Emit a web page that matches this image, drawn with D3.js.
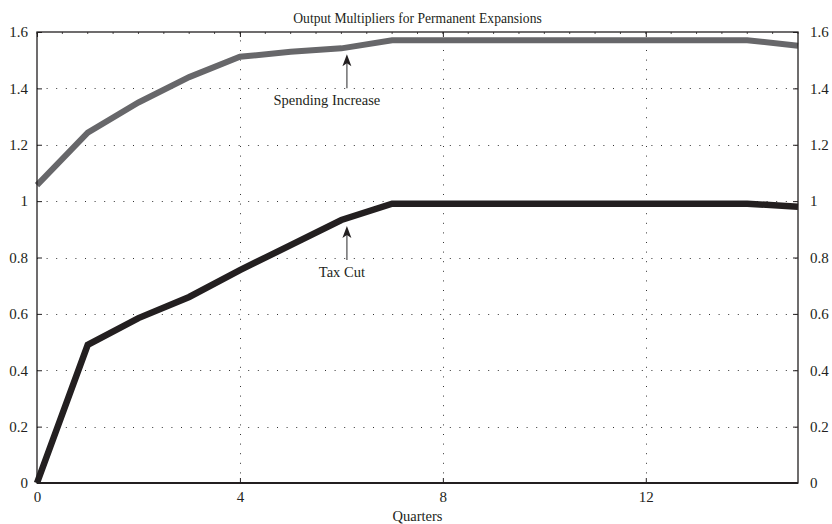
<!DOCTYPE html>
<html>
<head>
<meta charset="utf-8">
<script src="https://cdn.jsdelivr.net/npm/d3@7/dist/d3.min.js"></script>
<style>
  html, body { margin: 0; padding: 0; background: #fff; }
  svg { display: block; }
  text { font-family: "Liberation Serif", "DejaVu Serif", serif; fill: #231f20; }
</style>
</head>
<body>
<svg id="chart" width="832" height="524"></svg>
<script>
const title = "Output Multipliers for Permanent Expansions";
const xLabel = "Quarters";
const quarters = [0, 1, 2, 3, 4, 5, 6, 7, 8, 9, 10, 11, 12, 13, 14, 15];
const spendingIncrease = [1.057, 1.243, 1.35, 1.44, 1.512, 1.53, 1.542, 1.571, 1.571, 1.571, 1.571, 1.571, 1.571, 1.571, 1.571, 1.551];
const taxCut = [0, 0.49, 0.585, 0.66, 0.755, 0.844, 0.933, 0.991, 0.991, 0.991, 0.991, 0.991, 0.991, 0.991, 0.991, 0.98];
const xTicks = [0, 4, 8, 12];
const yTicks = [0, 0.2, 0.4, 0.6, 0.8, 1, 1.2, 1.4, 1.6];
const annotations = [
  { text: "Spending Increase", x: 6, series: "spending", textDx: -20 },
  { text: "Tax Cut", x: 6, series: "tax", textDx: -5 }
];

const svg = d3.select("#chart");
const m = { left: 37, right: 34, top: 32, bottom: 41 };
const W = 832, H = 524;
const x = d3.scaleLinear().domain([0, 15]).range([m.left, W - m.right]);
const y = d3.scaleLinear().domain([0, 1.6]).range([H - m.bottom, m.top]);

const ink = "#231f20";

// grid
const grid = svg.append("g");
yTicks.filter(v => v > 0 && v < 1.6).forEach(v => {
  grid.append("line").attr("x1", x(0)).attr("x2", x(15)).attr("y1", Math.round(y(v)) + 0.5).attr("y2", Math.round(y(v)) + 0.5)
    .attr("stroke", "#333").attr("stroke-width", 1).attr("stroke-dasharray", "1,8.6");
});
xTicks.filter(v => v > 0).forEach(v => {
  grid.append("line").attr("y1", y(0)).attr("y2", y(1.6)).attr("x1", Math.round(x(v)) + 0.5).attr("x2", Math.round(x(v)) + 0.5)
    .attr("stroke", "#333").attr("stroke-width", 1).attr("stroke-dasharray", "1,8.6");
});

// axes with inward ticks
const axL = d3.axisLeft(y).tickValues(yTicks).tickSize(-5).tickPadding(9).tickFormat(d => d3.format("")(+d.toFixed(1)));
const axR = d3.axisRight(y).tickValues(yTicks).tickSize(-5).tickPadding(12).tickFormat(d => d3.format("")(+d.toFixed(1)));
const axB = d3.axisBottom(x).tickValues(xTicks).tickSize(-5).tickPadding(8).tickFormat(d3.format("d"));
const axT = d3.axisTop(x).tickValues(xTicks).tickSize(-5).tickFormat("");

function style(g) {
  g.select(".domain").remove();
  g.selectAll("line").attr("stroke", ink).attr("stroke-width", 1);
  g.selectAll("text").attr("font-size", 15).attr("fill", ink).style("font-family", "'Liberation Serif', serif");
}
svg.append("g").attr("transform", `translate(${x(0)},0)`).call(axL).call(style);
svg.append("g").attr("transform", `translate(${x(15)},0)`).call(axR).call(style);
svg.append("g").attr("transform", `translate(0,${y(0)})`).call(axB).call(style);
svg.append("g").attr("transform", `translate(0,${y(1.6)})`).call(axT).call(style);

// minor ticks on the top border
const minor = d3.range(0, 15.01, 0.5);
svg.append("g").selectAll("line").data(minor).join("line")
  .attr("x1", d => x(d)).attr("x2", d => x(d))
  .attr("y1", y(1.6)).attr("y2", y(1.6) + 2)
  .attr("stroke", ink).attr("stroke-width", 0.8);

// lines
const line = d3.line().x((d, i) => x(quarters[i])).y(d => y(d));
svg.append("path").datum(spendingIncrease).attr("d", line)
  .attr("fill", "none").attr("stroke", "#67676a").attr("stroke-width", 6).attr("stroke-linejoin", "miter");
svg.append("path").datum(taxCut).attr("d", line)
  .attr("fill", "none").attr("stroke", ink).attr("stroke-width", 6.5).attr("stroke-linejoin", "miter");

// frame
svg.append("rect").attr("x", x(0)).attr("y", y(1.6)).attr("width", x(15) - x(0)).attr("height", y(0) - y(1.6))
  .attr("fill", "none").attr("stroke", ink).attr("stroke-width", 1.3);
svg.append("line").attr("x1", x(0)).attr("x2", x(15)).attr("y1", y(0)).attr("y2", y(0))
  .attr("stroke", ink).attr("stroke-width", 2.2);

// annotations
annotations.forEach(a => {
  const v = a.series === "spending" ? spendingIncrease[quarters.indexOf(a.x)] : taxCut[quarters.indexOf(a.x)];
  const ax = x(a.x) + 5.5;
  const tipY = y(v) + 6;
  const baseY = tipY + 34;
  svg.append("line").attr("x1", ax).attr("x2", ax).attr("y1", tipY + 6).attr("y2", baseY)
    .attr("stroke", "#58585a").attr("stroke-width", 1.3);
  svg.append("path")
    .attr("d", `M${ax},${tipY} L${ax + 4.5},${tipY + 12} L${ax},${tipY + 9} L${ax - 4.5},${tipY + 12} Z`)
    .attr("fill", ink);
  svg.append("text").attr("x", ax + a.textDx).attr("y", baseY + 17).attr("text-anchor", "middle")
    .attr("font-size", 14.5).text(a.text);
});

// title and axis label
svg.append("text").attr("x", (x(0) + x(15)) / 2).attr("y", 23).attr("text-anchor", "middle")
  .attr("font-size", 13.6).text(title);
svg.append("text").attr("x", (x(0) + x(15)) / 2).attr("y", 521).attr("text-anchor", "middle")
  .attr("font-size", 14.5).text(xLabel);
</script>
</body>
</html>
